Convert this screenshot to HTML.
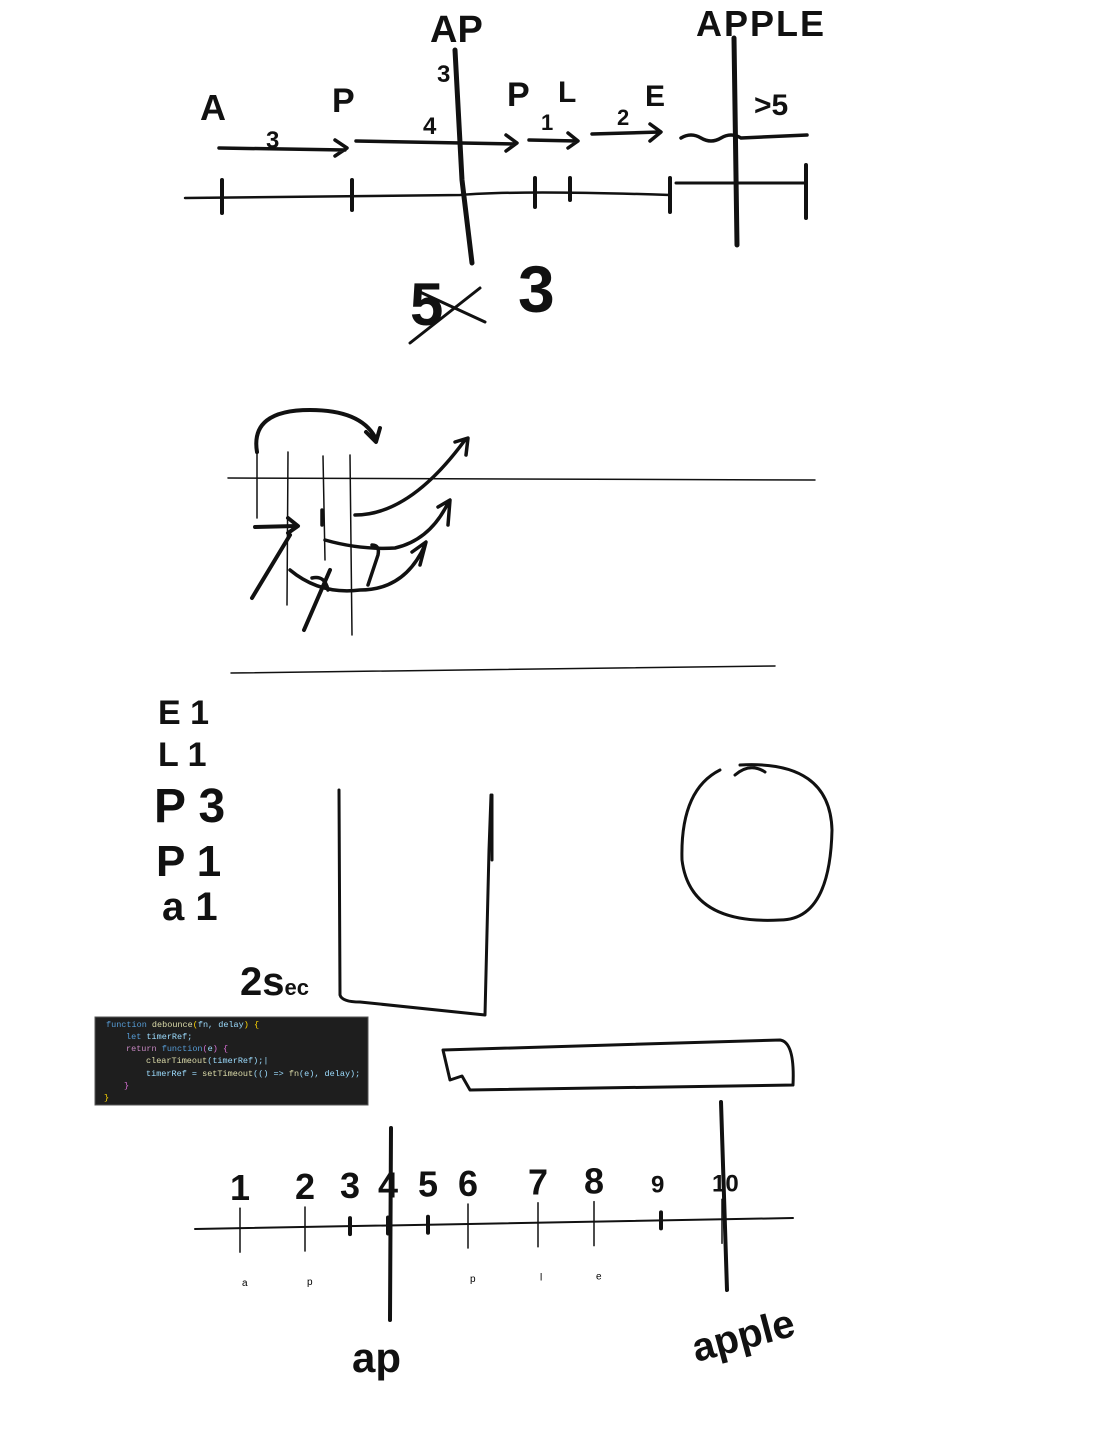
<!DOCTYPE html>
<html><head><meta charset="utf-8"><style>
html,body{margin:0;padding:0;background:#fff;}
svg{display:block}
.hw{font-family:"Liberation Sans",sans-serif;font-weight:bold;fill:#111}
.m{stroke:#111;fill:none;stroke-linecap:round;stroke-linejoin:round}
</style></head><body>
<svg id="s" width="1100" height="1454" viewBox="0 0 1100 1454">
<g>
 <text class="hw" x="430" y="42" font-size="38">AP</text>
 <text class="hw" x="696" y="36" font-size="36" letter-spacing="2">APPLE</text>
 <text class="hw" x="200" y="120" font-size="36">A</text>
 <text class="hw" x="332" y="112" font-size="34">P</text>
 <text class="hw" x="507" y="106" font-size="34">P</text>
 <text class="hw" x="558" y="102" font-size="30">L</text>
 <text class="hw" x="645" y="106" font-size="30">E</text>
 <text class="hw" x="266" y="148" font-size="24">3</text>
 <text class="hw" x="423" y="134" font-size="24">4</text>
 <text class="hw" x="437" y="82" font-size="24">3</text>
 <text class="hw" x="541" y="130" font-size="22">1</text>
 <text class="hw" x="617" y="125" font-size="22">2</text>
 <text class="hw" x="754" y="115" font-size="30">&gt;5</text>
 <text class="hw" x="410" y="325" font-size="60">5</text>
 <text class="hw" x="518" y="312" font-size="66">3</text>
 <path class="m" stroke-width="3" d="M410 343 L480 288 M420 292 L485 322"/>
 <path class="m" stroke-width="3.5" d="M219 148 L345 150 M335 140 L347 148 L335 156"/>
 <path class="m" stroke-width="3.5" d="M356 141 L515 144 M506 135 L517 143 L506 151"/>
 <path class="m" stroke-width="3.5" d="M529 140 L577 141 M568 133 L578 141 L568 148"/>
 <path class="m" stroke-width="3.5" d="M592 134 L660 132 M650 124 L661 132 L650 141"/>
 <path class="m" stroke-width="3.5" d="M681 138 q10 -6 20 0 q10 6 20 0 q10 -6 20 0 l66 -3"/>
 <path class="m" stroke-width="2.5" d="M185 198 L460 195 Q520 190 670 195"/>
 <path class="m" stroke-width="3" d="M676 183 L805 183"/>
 <path class="m" stroke-width="4" d="M222 180 L222 213 M352 180 L352 210 M535 178 L535 207 M570 178 L570 200 M670 178 L670 212 M806 165 L806 218"/>
 <path class="m" stroke-width="5" d="M455 50 L462 180 L472 263 M734 38 L737 245"/>
</g>
<g>
 <path class="m" stroke-width="1.5" d="M228 478 L815 480 M231 673 L775 666"/>
 <path class="m" stroke-width="4" d="M257 452 Q250 410 310 410 Q360 410 375 437 M366 432 L376 442 L380 428"/>
 <path class="m" stroke-width="1.5" d="M257 450 L257 518 M288 452 L287 605 M323 456 L325 560 M350 455 L352 635"/>
 <path class="m" stroke-width="4" d="M255 527 L296 526 M288 518 L298 526 L288 533 M252 598 L290 535 M304 630 L330 570"/>
 <path class="m" stroke-width="3.5" d="M355 515 Q410 515 465 440 M455 442 L468 438 L466 455"/>
 <path class="m" stroke-width="3.5" d="M325 540 Q360 550 395 548 Q430 540 448 503 M438 507 L450 500 L448 525"/>
 <path class="m" stroke-width="3.5" d="M290 570 Q320 595 360 590 Q405 590 425 545 M412 552 L426 542 L420 565"/>
 <path class="m" stroke-width="3.5" d="M322 510 L322 525 M372 545 Q380 545 378 555 L368 585 M312 578 Q325 575 328 590"/>
</g>
<g>
 <text class="hw" x="158" y="724" font-size="34">E 1</text>
 <text class="hw" x="158" y="766" font-size="34">L 1</text>
 <text class="hw" x="154" y="822" font-size="48">P 3</text>
 <text class="hw" x="156" y="876" font-size="44">P 1</text>
 <text class="hw" x="162" y="920" font-size="40">a 1</text>
 <text class="hw" x="240" y="995" font-size="40">2s<tspan font-size="22">ec</tspan></text>
 <path class="m" stroke-width="3" d="M339 790 L340 995 Q342 1002 360 1002 L485 1015 L489 850 L491 795 M492 795 L492 860"/>
 <path class="m" stroke-width="3" d="M740 765 Q830 760 832 830 Q830 920 780 920 Q690 925 682 860 Q680 790 720 770 M735 775 Q750 762 765 772"/>
 <path class="m" stroke-width="3" d="M443 1050 L780 1040 Q795 1042 793 1085 L470 1090 L462 1076 L450 1080 L443 1050"/>
</g>
<g>
 <rect x="95" y="1017" width="273" height="88" fill="#1e1e1e" stroke="#555"/>
 <g font-family="Liberation Mono,monospace" font-size="8.5" fill="#9cdcfe">
  <text x="106" y="1027"><tspan fill="#569cd6">function</tspan> <tspan fill="#dcdcaa">debounce</tspan><tspan fill="#ffd700">(</tspan>fn, delay<tspan fill="#ffd700">)</tspan> <tspan fill="#ffd700">{</tspan></text>
  <text x="126" y="1039"><tspan fill="#569cd6">let</tspan> timerRef;</text>
  <text x="126" y="1051"><tspan fill="#c586c0">return</tspan> <tspan fill="#569cd6">function</tspan><tspan fill="#da70d6">(</tspan>e<tspan fill="#da70d6">)</tspan> <tspan fill="#da70d6">{</tspan></text>
  <text x="146" y="1063"><tspan fill="#dcdcaa">clearTimeout</tspan>(timerRef);|</text>
  <text x="146" y="1076">timerRef = <tspan fill="#dcdcaa">setTimeout</tspan>(() =&gt; <tspan fill="#dcdcaa">fn</tspan>(e), delay);</text>
  <text x="124" y="1088" fill="#da70d6">}</text>
  <text x="104" y="1100" fill="#ffd700">}</text>
 </g>
</g>
<g id="numline">
 <path class="m" stroke-width="2" d="M195 1229 L793 1218"/>
 <path class="m" stroke-width="4" d="M391 1128 L390 1320 M721 1102 L727 1290"/>
 <text class="hw" x="352" y="1372" font-size="42">ap</text>
 <text class="hw" x="692" y="1350" font-size="40" transform="rotate(-15 740 1340)">apple</text>
</g>
</svg>
<script>
const tickLabels = ["1","2","3","4","5","6","7","8","9","10"];
const tickPos = [1,2,3,4,5,6,7,8,9,10];
const letterLabels = ["a","p","","","","p","l","e","",""];
const majorTick = [1,1,0,0,0,1,1,1,0,1];
const g = document.getElementById('numline');
const NS = "http://www.w3.org/2000/svg";
const xs = [240,305,350,388,428,468,538,594,661,722];
function xOf(i){ return xs[i]; }
function yAxis(x){ return 1229 - (x-195)*11/598; }
tickPos.forEach((v,i)=>{
  const x = xOf(v-1), y = yAxis(x);
  const t = document.createElementNS(NS,'line');
  
  
  const h = majorTick[i] ? 26 : 8;
  t.setAttribute('x1',x); t.setAttribute('x2',x);
  t.setAttribute('y1',y-h+(majorTick[i]?6:0)); t.setAttribute('y2',y+h-(majorTick[i]?2:0));
  t.setAttribute('stroke','#111'); t.setAttribute('stroke-width', majorTick[i]?1.5:4);
  t.setAttribute('stroke-linecap','round');
  g.appendChild(t);
  const n = document.createElementNS(NS,'text');
  
  
  n.setAttribute('x',x-10); n.setAttribute('y',y-28);
  n.setAttribute('class','hw'); n.setAttribute('font-size', i>=8?24:36);
  n.textContent = tickLabels[i];
  g.appendChild(n);
  if(letterLabels[i]){
    const l = document.createElementNS(NS,'text');
    
    
    l.setAttribute('x',x+2); l.setAttribute('y',y+58);
    l.setAttribute('font-family','Liberation Sans,sans-serif'); l.setAttribute('font-size','10');
    l.textContent = letterLabels[i];
    g.appendChild(l);
  }
});
</script>
</body></html>
